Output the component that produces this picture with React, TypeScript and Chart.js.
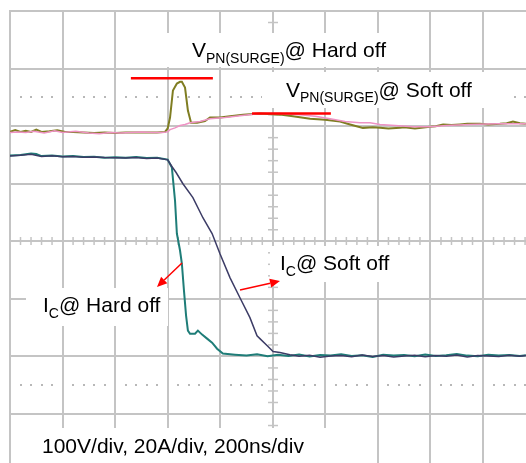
import React, { useEffect, useRef } from "react";
import { Chart, registerables } from "chart.js";

Chart.register(...registerables);

// Time in ns (200 ns/div), voltage in V (100 V/div), current in A (20 A/div)
const X_MAX = 1963.5;
const X_STEP = 200;
const V_MIN = 14.9;
const V_MAX = 800;
const A_MIN = -37.0;
const A_MAX = 120;

const hardVoltTime = [0, 20, 40, 60, 80, 100, 120, 150, 180, 210, 240, 280, 320, 360, 400, 440, 480, 520, 560, 590, 600, 609, 620, 635, 647, 654, 666, 677, 689, 712, 742, 761, 799, 837, 887, 951, 1027, 1077, 1142, 1199, 1256, 1294, 1343, 1380, 1408, 1440, 1484, 1500, 1541, 1598, 1620, 1648, 1680, 1712, 1740, 1788, 1820, 1864, 1890, 1914, 1940, 1963];
const hardVoltV = [590, 593, 590, 592, 590, 594, 590, 591, 593, 590, 590, 589, 588, 589, 588, 589, 589, 589, 589, 590, 596, 615, 662, 674, 677, 677, 667, 627, 606, 606, 609, 615, 615, 617, 620, 622, 620, 617, 613, 611, 608, 603, 597, 598, 597, 596, 597, 598, 596, 599, 600, 603, 602, 603, 604, 604, 603, 604, 605, 608, 605, 604];

const softVoltTime = [0, 30, 60, 90, 130, 170, 200, 250, 300, 340, 380, 420, 460, 500, 540, 580, 600, 609, 628, 647, 666, 685, 723, 761, 818, 875, 951, 1027, 1103, 1161, 1218, 1275, 1332, 1370, 1408, 1465, 1533, 1598, 1662, 1750, 1853, 1963];
const softVoltV = [589, 590, 589, 591, 588, 592, 589, 591, 588, 587, 589, 588, 589, 590, 589, 589, 590, 594, 597, 601, 603, 606, 608, 613, 615, 618, 622, 622, 620, 617, 613, 608, 606, 606, 603, 601, 599, 599, 601, 603, 604, 604];

const hardCurTime = [0, 40, 80, 100, 120, 160, 200, 240, 280, 320, 360, 400, 440, 480, 520, 560, 600, 616, 628, 635, 647, 654, 662, 670, 677, 685, 704, 715, 731, 750, 769, 788, 810, 856, 900, 940, 980, 1020, 1060, 1100, 1140, 1180, 1220, 1260, 1300, 1340, 1380, 1420, 1460, 1500, 1540, 1580, 1620, 1660, 1700, 1740, 1780, 1820, 1860, 1900, 1940, 1963];
const hardCurA = [69.8, 70.0, 70.5, 70.3, 69.6, 69.8, 69.5, 69.6, 69.3, 69.4, 69.0, 69.2, 69.0, 69.3, 68.9, 69.0, 68.4, 65.6, 54.1, 42.7, 36.8, 32.3, 22.9, 14.2, 9.0, 7.9, 7.9, 9.0, 7.6, 6.2, 4.8, 2.7, 1.0, 0.6, 0.3, 0.8, 0.1, 0.6, 0.2, 0.7, 0.0, 0.5, 0.3, 0.8, 0.2, 0.4, -0.2, 0.6, 0.3, 0.5, 0.1, 0.7, 0.2, 0.4, 0.9, 0.3, 0.1, 0.6, 0.3, 0.5, 0.2, 0.4];

const softCurTime = [0, 40, 80, 120, 160, 200, 240, 280, 320, 360, 400, 440, 480, 520, 560, 600, 616, 632, 658, 696, 734, 769, 799, 837, 875, 913, 940, 951, 978, 1001, 1027, 1065, 1100, 1140, 1180, 1220, 1260, 1300, 1340, 1380, 1420, 1460, 1500, 1540, 1580, 1620, 1660, 1700, 1740, 1780, 1820, 1860, 1900, 1940, 1963];
const softCurA = [69.6, 69.9, 70.2, 69.5, 69.7, 69.4, 69.5, 69.2, 69.3, 69.1, 69.0, 68.9, 69.1, 68.8, 68.9, 68.3, 66.0, 63.9, 60.0, 55.2, 48.2, 42.7, 35.7, 27.4, 20.4, 13.5, 7.2, 6.2, 3.8, 1.7, 1.4, 0.6, 0.1, 0.4, -0.3, 0.2, 0.3, -0.1, 0.5, 0.0, 0.3, -0.2, 0.2, 0.4, -0.1, 0.3, 0.1, 0.5, -0.2, 0.3, 0.2, 0.0, 0.4, 0.1, 0.3];

// Surge markers (time start, time end, voltage level)
const hardSurgeMarker = [460, 772, 683];
const softSurgeMarker = [921, 1221, 622];
const dottedLevelsV = [150, 650];

const labelMain = ["V", "V", "I", "I"];
const labelSub = ["PN(SURGE)", "PN(SURGE)", "C", "C"];
const labelRest = ["@ Hard off", "@ Soft off", "@ Soft off", "@ Hard off"];
const scaleText = "100V/div, 20A/div, 200ns/div";

const GRID = "#c4c4c4";
const FONT = '"Liberation Sans", Arial, Helvetica, sans-serif';

function pts(t: number[], v: number[]) {
  return t.map((x, i) => ({ x, y: v[i] }));
}

function arrow(ctx: CanvasRenderingContext2D, x1: number, y1: number, x2: number, y2: number) {
  const ang = Math.atan2(y2 - y1, x2 - x1);
  const hl = 10;
  const hw = 4.5;
  const bx = x2 - hl * Math.cos(ang);
  const by = y2 - hl * Math.sin(ang);
  ctx.beginPath();
  ctx.moveTo(x1, y1);
  ctx.lineTo(bx, by);
  ctx.stroke();
  ctx.beginPath();
  ctx.moveTo(x2, y2);
  ctx.lineTo(bx + hw * Math.sin(ang), by - hw * Math.cos(ang));
  ctx.lineTo(bx - hw * Math.sin(ang), by + hw * Math.cos(ang));
  ctx.closePath();
  ctx.fill();
}

function drawLabel(ctx: CanvasRenderingContext2D, x: number, base: number, main: string, sub: string, rest: string, dy: number) {
  ctx.fillStyle = "#000";
  ctx.textBaseline = "alphabetic";
  ctx.textAlign = "left";
  ctx.font = `21px ${FONT}`;
  ctx.fillText(main, x, base);
  let cx = x + ctx.measureText(main).width;
  ctx.font = `14px ${FONT}`;
  ctx.fillText(sub, cx, base + dy);
  cx += ctx.measureText(sub).width;
  ctx.font = `21px ${FONT}`;
  ctx.fillText(rest, cx, base);
}

const decor = {
  id: "decor",
  beforeDatasetsDraw(chart: any) {
    const { ctx, scales, chartArea } = chart;
    const xs = scales.x;
    const ys = scales.yV;
    ctx.save();
    // vertical division lines
    ctx.strokeStyle = GRID;
    ctx.lineWidth = 2;
    for (let t = 0; t <= X_MAX; t += X_STEP) {
      const px = Math.round(xs.getPixelForValue(t));
      ctx.beginPath();
      ctx.moveTo(px, chartArea.top - 1);
      ctx.lineTo(px, chartArea.bottom);
      ctx.stroke();
    }
    // dotted reference lines
    ctx.fillStyle = "#b8b8b8";
    for (const lv of dottedLevelsV) {
      const py = Math.round(ys.getPixelForValue(lv));
      for (let t = 40; t <= X_MAX; t += 40) {
        if (t % X_STEP === 0) continue;
        const px = Math.round(xs.getPixelForValue(t));
        ctx.fillRect(px - 1, py - 1, 2, 2);
      }
    }
    // minor ticks on the centre lines
    ctx.strokeStyle = GRID;
    ctx.lineWidth = 1.5;
    const cx = Math.round(xs.getPixelForValue(1000));
    for (let v = 20; v < V_MAX; v += 20) {
      if (v % 100 === 0) continue;
      const py = ys.getPixelForValue(v);
      if (py > chartArea.bottom) continue;
      ctx.beginPath();
      ctx.moveTo(cx - 5, py);
      ctx.lineTo(cx + 5, py);
      ctx.stroke();
    }
    const cy = Math.round(ys.getPixelForValue(400));
    for (let t = 40; t <= X_MAX; t += 40) {
      if (t % X_STEP === 0) continue;
      const px = xs.getPixelForValue(t);
      ctx.beginPath();
      ctx.moveTo(px, cy - 4);
      ctx.lineTo(px, cy + 4);
      ctx.stroke();
    }
    // white label backgrounds
    ctx.fillStyle = "#ffffff";
    const boxes = [
      [166, 33, 230, 34],
      [262, 72, 244, 36],
      [270, 246, 126, 36],
      [26, 288, 142, 38],
      [12, 428, 322, 35],
    ];
    for (const b of boxes) ctx.fillRect(b[0], b[1], b[2], b[3]);
    ctx.restore();
  },
  afterDatasetsDraw(chart: any) {
    const { ctx, scales } = chart;
    const xs = scales.x;
    const ys = scales.yV;
    ctx.save();
    ctx.strokeStyle = "#ff0000";
    ctx.fillStyle = "#ff0000";
    ctx.lineWidth = 2.5;
    for (const m of [hardSurgeMarker, softSurgeMarker]) {
      const py = ys.getPixelForValue(m[2]);
      ctx.beginPath();
      ctx.moveTo(xs.getPixelForValue(m[0]), py);
      ctx.lineTo(xs.getPixelForValue(m[1]), py);
      ctx.stroke();
    }
    ctx.lineWidth = 1.5;
    arrow(ctx, 182, 263, 157, 287);
    arrow(ctx, 240, 290, 280, 281);

    drawLabel(ctx, 192, 57, labelMain[0], labelSub[0], labelRest[0], 6);
    drawLabel(ctx, 286, 97, labelMain[1], labelSub[1], labelRest[1], 5);
    drawLabel(ctx, 280, 270, labelMain[2], labelSub[2], labelRest[2], 6);
    drawLabel(ctx, 43, 312, labelMain[3], labelSub[3], labelRest[3], 6);
    ctx.font = `21px ${FONT}`;
    ctx.fillStyle = "#000";
    ctx.fillText(scaleText, 42, 453);
    ctx.restore();
  },
};

function keepMultiples(step: number) {
  return (s: any) => {
    s.ticks = s.ticks.filter((t: any) => Math.abs(t.value / step - Math.round(t.value / step)) < 1e-6);
  };
}

export default function App() {
  const ref = useRef<HTMLCanvasElement | null>(null);
  useEffect(() => {
    if (!ref.current) return;
    const chart = new Chart(ref.current, {
      type: "line",
      data: {
        datasets: [
          { data: pts(softVoltTime, softVoltV), borderColor: "#ee93c4", borderWidth: 1.5, yAxisID: "yV" },
          { data: pts(hardVoltTime, hardVoltV), borderColor: "#7f7d22", borderWidth: 2, yAxisID: "yV" },
          { data: pts(softCurTime, softCurA), borderColor: "#3c3c66", borderWidth: 1.5, yAxisID: "yA" },
          { data: pts(hardCurTime, hardCurA), borderColor: "#1f7d78", borderWidth: 2, yAxisID: "yA" },
        ] as any,
      },
      options: {
        responsive: false,
        animation: false,
        devicePixelRatio: 1,
        layout: { padding: { left: 10, top: 11, right: 0, bottom: 0 } },
        elements: { point: { radius: 0 }, line: { tension: 0 } },
        plugins: { legend: { display: false }, tooltip: { enabled: false } },
        scales: {
          x: {
            type: "linear",
            min: 0,
            max: X_MAX,
            ticks: { display: false, stepSize: X_STEP, autoSkip: false },
            grid: { color: GRID, lineWidth: 2, drawTicks: false },
            border: { display: false },
            afterBuildTicks: keepMultiples(X_STEP),
          },
          yV: {
            type: "linear",
            position: "left",
            min: V_MIN,
            max: V_MAX,
            ticks: { display: false, stepSize: 100, autoSkip: false },
            grid: { color: GRID, lineWidth: 2, drawTicks: false },
            border: { display: false },
            afterBuildTicks: keepMultiples(100),
          },
          yA: {
            type: "linear",
            position: "right",
            display: false,
            min: A_MIN,
            max: A_MAX,
          },
        },
      } as any,
      plugins: [decor],
    });
    return () => chart.destroy();
  }, []);
  return (
    <div style={{ position: "absolute", left: 0, top: 0, width: 526, height: 463, background: "#fff" }}>
      <canvas ref={ref} width={526} height={463} style={{ display: "block" }} />
    </div>
  );
}
